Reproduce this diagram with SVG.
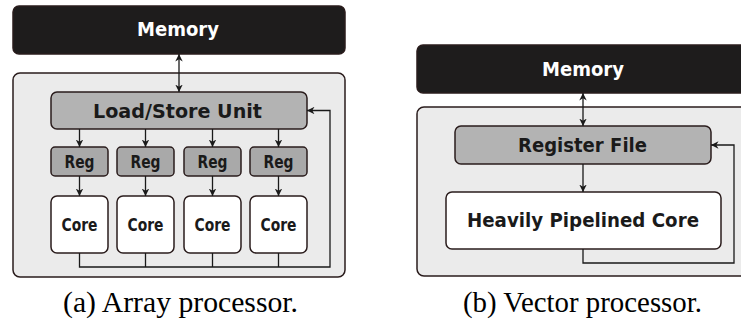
<svg xmlns="http://www.w3.org/2000/svg" width="741" height="329" viewBox="0 0 741 329">
<style>
.mem{fill:#1e1c1c;stroke:#2a1c1c;stroke-width:1.5}
.outer{fill:#ebebeb;stroke:#2a1c1c;stroke-width:1.5}
.lsu{fill:#b3b3b3;stroke:#2a1c1c;stroke-width:1.5}
.reg{fill:#a9a9a9;stroke:#2a1c1c;stroke-width:1.5}
.core{fill:#ffffff;stroke:#2a1c1c;stroke-width:1.5}
.t{font-family:"DejaVu Sans",sans-serif;font-weight:bold;text-anchor:middle;fill:#1a1a1a}
.tw{fill:#ffffff}
.big{font-size:20px}
.small{font-size:17.5px}
.cap{font-family:"Liberation Serif",serif;font-size:28.5px;text-anchor:middle;fill:#000}
.ln{fill:none;stroke:#1a1a1a;stroke-width:1.3}
</style>
<defs>
<marker id="ah" viewBox="0 0 10 10" refX="10" refY="5" markerWidth="7.5" markerHeight="7.5" markerUnits="userSpaceOnUse" orient="auto-start-reverse">
<path d="M0,0 L10,5 L0,10 L3,5 Z" fill="#1a1a1a"/>
</marker>
</defs>
<g id="left-outer"><rect class="outer" x="13" y="73" width="332" height="204" rx="7"/></g>
<g id="left-memory"><rect class="mem" x="13" y="6" width="332" height="48" rx="6"/><text class="t tw big" x="178" y="36" textLength="82" lengthAdjust="spacingAndGlyphs">Memory</text></g>
<g id="lsu"><rect class="lsu" x="51" y="92" width="256" height="37" rx="6"/><text class="t big" x="177.5" y="117.5" textLength="169" lengthAdjust="spacingAndGlyphs">Load/Store Unit</text></g>
<g id="reg1"><rect class="reg" x="51" y="147" width="57" height="29" rx="4"/><text class="t small" x="79.5" y="168" textLength="30" lengthAdjust="spacingAndGlyphs">Reg</text></g>
<g id="reg2"><rect class="reg" x="117" y="147" width="57" height="29" rx="4"/><text class="t small" x="145.5" y="168" textLength="30" lengthAdjust="spacingAndGlyphs">Reg</text></g>
<g id="reg3"><rect class="reg" x="184" y="147" width="57" height="29" rx="4"/><text class="t small" x="212.5" y="168" textLength="30" lengthAdjust="spacingAndGlyphs">Reg</text></g>
<g id="reg4"><rect class="reg" x="250" y="147" width="57" height="29" rx="4"/><text class="t small" x="278.5" y="168" textLength="30" lengthAdjust="spacingAndGlyphs">Reg</text></g>
<g id="core1"><rect class="core" x="51" y="196" width="57" height="57" rx="6"/><text class="t small" x="79.5" y="230.5" textLength="36" lengthAdjust="spacingAndGlyphs">Core</text></g>
<g id="core2"><rect class="core" x="117" y="196" width="57" height="57" rx="6"/><text class="t small" x="145.5" y="230.5" textLength="36" lengthAdjust="spacingAndGlyphs">Core</text></g>
<g id="core3"><rect class="core" x="184" y="196" width="57" height="57" rx="6"/><text class="t small" x="212.5" y="230.5" textLength="36" lengthAdjust="spacingAndGlyphs">Core</text></g>
<g id="core4"><rect class="core" x="250" y="196" width="57" height="57" rx="6"/><text class="t small" x="278.5" y="230.5" textLength="36" lengthAdjust="spacingAndGlyphs">Core</text></g>

<g id="right-outer"><rect class="outer" x="417" y="107" width="330" height="169" rx="7"/></g>
<g id="right-memory"><rect class="mem" x="417" y="45" width="330" height="48" rx="6"/><text class="t tw big" x="583" y="75.5" textLength="82" lengthAdjust="spacingAndGlyphs">Memory</text></g>
<g id="regfile"><rect class="lsu" x="455" y="126" width="256" height="38" rx="6"/><text class="t big" x="582.5" y="151.5" textLength="129" lengthAdjust="spacingAndGlyphs">Register File</text></g>
<g id="hpcore"><rect class="core" x="446" y="192" width="275" height="57" rx="6"/><text class="t big" x="583" y="226.5" textLength="232" lengthAdjust="spacingAndGlyphs">Heavily Pipelined Core</text></g>

<g id="connectors">
<line class="ln" x1="179" y1="54" x2="179" y2="92" marker-start="url(#ah)" marker-end="url(#ah)"/>
<line class="ln" x1="79.5" y1="129" x2="79.5" y2="147" marker-end="url(#ah)"/>
<line class="ln" x1="145.5" y1="129" x2="145.5" y2="147" marker-end="url(#ah)"/>
<line class="ln" x1="212.5" y1="129" x2="212.5" y2="147" marker-end="url(#ah)"/>
<line class="ln" x1="278.5" y1="129" x2="278.5" y2="147" marker-end="url(#ah)"/>
<line class="ln" x1="79.5" y1="176" x2="79.5" y2="196" marker-end="url(#ah)"/>
<line class="ln" x1="145.5" y1="176" x2="145.5" y2="196" marker-end="url(#ah)"/>
<line class="ln" x1="212.5" y1="176" x2="212.5" y2="196" marker-end="url(#ah)"/>
<line class="ln" x1="278.5" y1="176" x2="278.5" y2="196" marker-end="url(#ah)"/>
<path class="ln" d="M79.5,253 V267 H330 V110.5 H307" marker-end="url(#ah)"/>
<path class="ln" d="M145.5,253 V267 M212.5,253 V267 M278.5,253 V267"/>
<line class="ln" x1="583" y1="93" x2="583" y2="126" marker-start="url(#ah)" marker-end="url(#ah)"/>
<line class="ln" x1="583" y1="164" x2="583" y2="192" marker-end="url(#ah)"/>
<path class="ln" d="M583,249 V263 H734 V145 H711" marker-end="url(#ah)"/>
</g>

<text class="cap" x="180.5" y="312" textLength="235" lengthAdjust="spacingAndGlyphs">(a) Array processor.</text>
<text class="cap" x="582.5" y="312" textLength="239" lengthAdjust="spacingAndGlyphs">(b) Vector processor.</text>
</svg>
